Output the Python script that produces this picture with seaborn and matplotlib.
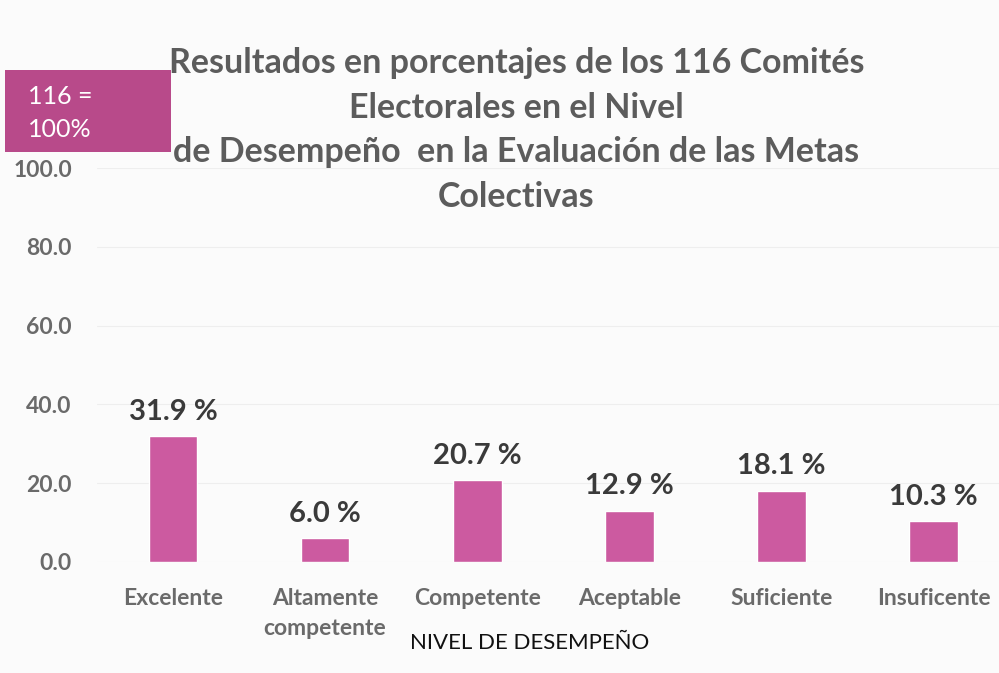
import matplotlib
matplotlib.use("Agg")
import matplotlib.pyplot as plt
import seaborn as sns
import pandas as pd

niveles = ["Excelente", "Altamente\ncompetente", "Competente", "Aceptable", "Suficiente", "Insuficente"]
porcentajes = [31.9, 6.0, 20.7, 12.9, 18.1, 10.3]
y_ticks = [0, 20, 40, 60, 80, 100]

sns.set_theme(style="white")
plt.rcParams["font.family"] = ["Lato", "DejaVu Sans"]

df = pd.DataFrame({"Nivel": niveles, "Porcentaje": porcentajes})

fig = plt.figure(figsize=(9.99, 6.73), dpi=100)
fig.patch.set_facecolor("#fbfbfb")
ax = fig.add_axes([0.097, 0.165, 0.903, 0.585])
ax.set_facecolor("#fbfbfb")

sns.barplot(data=df, x="Nivel", y="Porcentaje", ax=ax, color="#cc5aa0",
            saturation=1, width=0.32)

ax.set_xlim(-0.5, 5.43)
ax.set_ylim(0, 100)
ax.set_yticks(y_ticks)
ax.set_yticklabels([f"{v:.1f}" for v in y_ticks], fontsize=16.5, fontweight="bold", color="#6a6a6a")
ax.tick_params(axis="x", labelsize=16.5, colors="#6a6a6a", length=0, pad=19)
ax.tick_params(axis="y", length=0, pad=18)
for lbl in ax.get_xticklabels():
    lbl.set_fontweight("bold")
    lbl.set_linespacing(1.5)
ax.yaxis.grid(True, color="#eeeeee", linewidth=0.8)
ax.set_axisbelow(True)
for s in ax.spines.values():
    s.set_visible(False)

for i, v in enumerate(porcentajes):
    ax.text(i, v + 3, f"{v:.1f} %", ha="center", va="bottom",
            fontsize=21, fontweight="bold", color="#3a3a3a")

ax.set_xlabel("NIVEL DE DESEMPEÑO", fontsize=16, color="#111111")
ax.xaxis.set_label_coords(0.48, -0.18)
ax.set_ylabel("")

fig.text(0.517, 0.93,
         "Resultados en porcentajes de los 116 Comités\nElectorales en el Nivel\n"
         "de Desempeño  en la Evaluación de las Metas\nColectivas",
         ha="center", va="top", fontsize=24.5, fontweight="bold", color="#5c5c5c",
         linespacing=1.48)

fig.patches.append(plt.Rectangle((0.005, 0.774), 0.166, 0.122, transform=fig.transFigure,
                                 facecolor="#b84a8a", edgecolor="none", zorder=5))
fig.text(0.028, 0.832, "116 =\n100%", ha="left", va="center", fontsize=18,
         color="white", linespacing=1.55, zorder=6)

fig.savefig("out.png", dpi=100, facecolor=fig.get_facecolor())
